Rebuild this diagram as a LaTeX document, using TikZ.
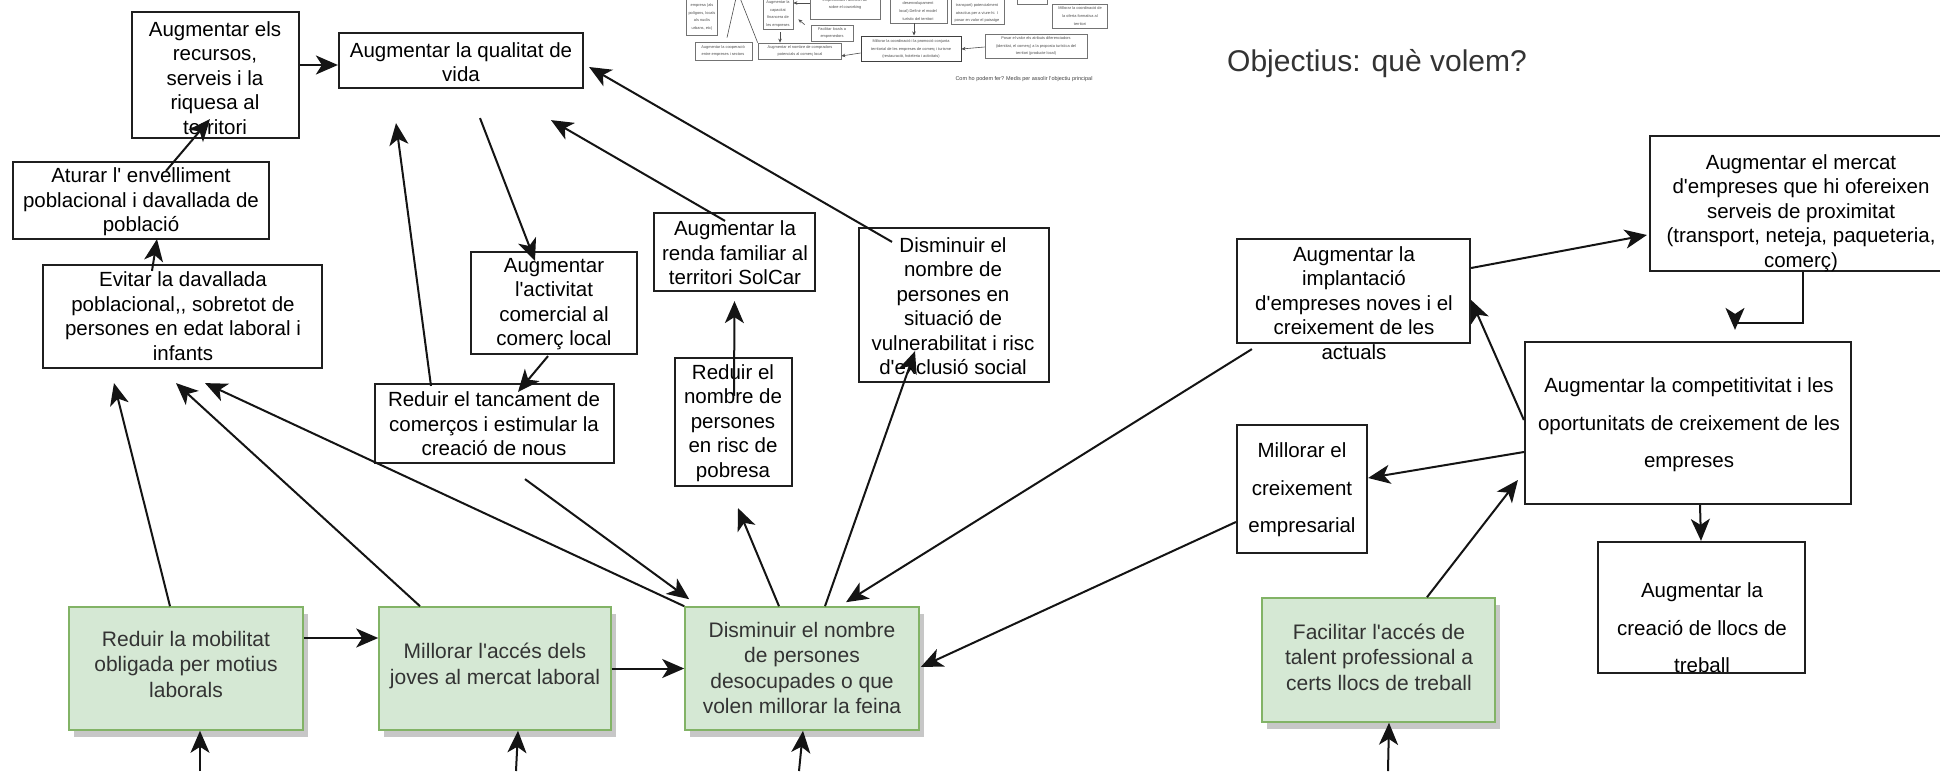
\documentclass[tikz,border=0pt]{standalone}
\usepackage{fontspec}
\setmainfont{Liberation Sans}
\usetikzlibrary{arrows.meta,fit,shadows}
\definecolor{gfill}{HTML}{D5E8D4}
\definecolor{gdraw}{HTML}{82B366}
\newcommand{\myap}{\textquotesingle}
\begin{document}
\begin{tikzpicture}[x=1pt,y=-1pt,
  wbox/.style={draw=black!88, line width=2.2pt, inner sep=0pt},
  wtxt/.style={align=center, inner sep=0pt, font=\fontsize{20.5}{24.5}\selectfont},
  wtxtw/.style={align=center, inner sep=0pt, font=\fontsize{20.5}{37.5}\selectfont},
  gbox/.style={draw=gdraw, line width=1.6pt, fill=gfill, inner sep=0pt,
    drop shadow={shadow xshift=5pt, shadow yshift=-7pt, fill=black!40, opacity=0.55}},
  gtxt/.style={align=center, inner sep=0pt, text=black!80, font=\fontsize{21}{25.5}\selectfont},
  arr/.style={line width=2pt, draw=black!92, -{Stealth[length=22pt,width=19pt,inset=6pt]}},
  tbox/.style={draw=black!55, line width=0.7pt, inner sep=0pt},
  ttxt/.style={align=center, inner sep=0pt, text=black!70, font=\fontsize{3.9}{7.8}\selectfont},
  tarr/.style={line width=0.6pt, draw=black!70, -{Stealth[length=4pt,width=3.5pt]}},
  tline/.style={line width=0.6pt, draw=black!70}
]
\path[use as bounding box] (0,0) rectangle (1940,771);
\clip (0,0) rectangle (1940,771);
\fill[white] (0,0) rectangle (1940,771);

% ---------- thumbnail (top middle) ----------
\node[tbox, fit={(686,-5) (717,35)}] (tA) {};
\node[ttxt] (tAt) at (702,17) {empresa (als\\polígons, locals\\als nuclis\\urbans, etc)};
\node[tbox, fit={(763,-5) (793,29)}] (tB) {};
\node[ttxt] (tBt) at (778,14) {Augmentar la\\capacitat\\financera de\\les empreses};
\node[tbox, fit={(810,-5) (880,19)}] (tC) {};
\node[ttxt] (tCt) at (845,4) {empresarials i directori de\\sobre el coworking};
\node[tbox, fit={(811,25) (853,41)}] (tD) {};
\node[ttxt] (tDt) at (832,33) {Facilitar locals a\\emprenedors};
\node[tbox, fit={(758,43) (841,59)}] (tE) {};
\node[ttxt] (tEt) at (800,51) {Augmentar el nombre de compradors\\potencials al comerç local};
\node[tbox, fit={(695,42) (752,60)}] (tF) {};
\node[ttxt] (tFt) at (723,51) {Augmentar la cooperació\\entre empreses i sectors};
\node[tbox, fit={(890,-5) (947,23)}] (tG) {};
\node[ttxt] (tGt) at (918,11) {desenvolupament\\local) Definir el model\\turístic del territori};
\node[tbox, fit={(951,-5) (1004,24)}] (tH) {};
\node[ttxt] (tHt) at (977,13) {transport) potencialment\\atractius per a viure-hi. I\\posar en valor el paisatge};
\node[tbox, line width=1pt, draw=black!75, fit={(861,36) (961,61)}] (tI) {};
\node[ttxt] (tIt) at (911,49) {Millorar la coordinació i la promoció conjunta\\territorial de les empreses de comerç i turisme\\(restauració, hoteleria i activitats)};
\node[tbox, fit={(985,34) (1087,58)}] (tJ) {};
\node[ttxt] (tJt) at (1036,46) {Posar el valor els atributs diferenciadors\\(identitat, el comerç) a la proposta turística del\\territori (producte local)};
\node[tbox, fit={(1017,-5) (1047,4)}] (tK) {};
\node[tbox, fit={(1052,4) (1107,28)}] (tL) {};
\node[ttxt] (tLt) at (1080,16) {Millorar la coordinació de\\la oferta formativa al\\territori};
\node[inner sep=0pt, text=black!75, font=\fontsize{5.5}{6.5}\selectfont] (tcap) at (1024,79) {Com ho podem fer? Medis per assolir l\myap objectiu principal};
\coordinate (tq1) at (736,-2);
\coordinate (tq2) at (740,-2);
\draw[tline] (tq1) -- ([xshift=3.5pt,yshift=4pt]tF.north);
\draw[tline] (tq2) -- (tE.north west);
\draw[tarr] ([yshift=4pt]tC.west) -- ([yshift=9pt]tB.east);
\draw[tarr] ([xshift=-6pt]tD.north west) -- ([xshift=5pt,yshift=10pt]tB.south east);
\draw[tarr] ([xshift=2pt,yshift=-3pt]tB.south) -- ([xshift=-19.5pt]tE.north);
\draw[tarr] ([xshift=-4.5pt]tG.south) -- ([xshift=3pt]tI.north);
\draw[tarr] ([yshift=-4.5pt]tI.west) -- ([yshift=-5pt]tE.east);
\draw[tarr] ([yshift=-1pt]tJ.west) -- ([yshift=-0.5pt]tI.east);
\draw[tline] (tK.south -| tL.north) -- (tL.north);

% ---------- title ----------
\node[inner sep=0pt, text=black!80, font=\fontsize{30}{36}\selectfont] (tit) at (1377,64) {Objectius: què volem?};

% ---------- white boxes ----------
\node[wbox, fit={(132,12) (299,138)}] (rec) {};
\node[wtxt] (recT) at (215,78) {Augmentar els\\recursos,\\serveis i la\\riquesa al\\territori};
\node[wbox, fit={(339,33) (583,88)}] (qual) {};
\node[wtxt] (qualT) at (461,62) {Augmentar la qualitat de\\vida};
\node[wbox, fit={(13,162) (269,239)}] (atu) {};
\node[wtxt] (atuT) at (141,202) {Aturar l\myap{} envelliment\\poblacional i davallada de\\població};
\node[wbox, fit={(43,265) (322,368)}] (evi) {};
\node[wtxt] (eviT) at (183,316) {Evitar la davallada\\poblacional{,}{,} sobretot de\\persones en edat laboral i\\infants};
\node[wbox, fit={(471,252) (637,354)}] (act) {};
\node[wtxt] (actT) at (554,304) {Augmentar\\l\myap activitat\\comercial al\\comerç local};
\node[wbox, fit={(375,384) (614,463)}] (tan) {};
\node[wtxt] (tanT) at (494,424) {Reduir el tancament de\\comerços i estimular la\\creació de nous};
\node[wbox, fit={(654,213) (815,291)}] (ren) {};
\node[wtxt] (renT) at (735,253) {Augmentar la\\renda familiar al\\territori SolCar};
\node[wbox, fit={(675,358) (792,486)}] (pob) {};
\node[wtxt] (pobT) at (733,423) {Reduir el\\nombre de\\persones\\en risc de\\pobresa};
\node[wbox, fit={(859,228) (1049,382)}] (vul) {};
\node[wtxt] (vulT) at (953,306) {Disminuir el\\nombre de\\persones en\\situació de\\vulnerabilitat i risc\\d\myap exclusió social};
\node[wbox, fit={(1237,239) (1470,343)}] (imp) {};
\node[wtxt] (impT) at (1354,303) {Augmentar la\\implantació\\d\myap empreses noves i el\\creixement de les\\actuals};
\node[wbox, fit={(1650,136) (1960,271)}] (mer) {};
\node[wtxt] (merT) at (1801,213) {Augmentar el mercat\\d\myap empreses que hi ofereixen\\serveis de proximitat\\(transport, neteja, paqueteria,\\comerç)};
\node[wbox, fit={(1525,342) (1851,504)}] (com) {};
\node[wtxtw] (comT) at (1689,425) {Augmentar la competitivitat i les\\oportunitats de creixement de les\\empreses};
\node[wbox, fit={(1237,425) (1367,553)}] (cre) {};
\node[wtxtw] (creT) at (1302,490) {Millorar el\\creixement\\empresarial};
\node[wbox, fit={(1598,542) (1805,673)}] (llo) {};
\node[wtxtw] (lloT) at (1702,628) {Augmentar la\\creació de llocs de\\treball};

% ---------- green boxes ----------
\node[gbox, fit={(69,607) (303,730)}] (g1) {};
\node[gtxt] (g1T) at (186,664) {Reduir la mobilitat\\obligada per motius\\laborals};
\node[gbox, fit={(379,607) (611,730)}] (g2) {};
\node[gtxt] (g2T) at (495,666) {Millorar l\myap accés dels\\joves al mercat laboral};
\node[gbox, fit={(685,607) (919,730)}] (g3) {};
\node[gtxt] (g3T) at (802,668) {Disminuir el nombre\\de persones\\desocupades o que\\volen millorar la feina};
\node[gbox, fit={(1262,598) (1495,722)}] (g4) {};
\node[gtxt] (g4T) at (1379,657) {Facilitar l\myap accés de\\talent professional a\\certs llocs de treball};

% ---------- connectors ----------
\draw[arr] ([yshift=10pt]rec.east) -- ([yshift=-4.5pt]qual.west);
\draw[arr] ([xshift=25pt,yshift=-10pt]atu.north) -- ([xshift=-5.5pt,yshift=20pt]rec.south);
\draw[arr] ([xshift=-30.5pt,yshift=-7pt]evi.north) -- ([xshift=16pt,yshift=1pt]atu.south);
\draw[arr] ([xshift=19pt,yshift=-29pt]qual.south) -- ([xshift=-19pt,yshift=-10pt]act.north);
\draw[arr] ([xshift=-6pt,yshift=-1pt]act.south) -- ([xshift=23.5pt,yshift=-9pt]tan.north);
\draw[arr] ([xshift=-63.5pt,yshift=-3pt]tan.north) -- ([xshift=-65pt,yshift=-34pt]qual.south);
\draw[arr] ([xshift=-9.5pt,yshift=-9pt]ren.north) -- ([xshift=90pt,yshift=-31pt]qual.south);
\draw[arr] ([xshift=-62pt,yshift=-15pt]vul.north) -- ([xshift=5pt,yshift=-6.5pt]qual.east);
\draw[arr] ([xshift=0.5pt,yshift=-39pt]pob.north) -- ([yshift=-9pt]ren.south);
\draw[arr] ([xshift=23pt]g3.north) -- ([xshift=-39pt,yshift=32pt]vul.south);
\draw[arr] ([xshift=-23pt]g3.north) -- ([xshift=4.5pt,yshift=-21pt]pob.south);
\draw[arr] ([xshift=30.5pt,yshift=-15pt]tan.south) -- ([xshift=5pt,yshift=7pt]g3.north west);
\draw[arr] (g3.north west) -- ([xshift=22.5pt,yshift=-14pt]evi.south);
\draw[arr] ([xshift=-75pt]g2.north) -- ([xshift=-6.5pt,yshift=-14pt]evi.south);
\draw[arr] ([xshift=-16pt]g1.north) -- ([xshift=-68.5pt,yshift=-14pt]evi.south);
\draw[arr] ([yshift=30.5pt]g1.east) -- ([yshift=30.5pt]g2.west);
\draw[arr] (g2.east) -- (g3.west);
\coordinate (b1) at (200,771);
\coordinate (b2) at (516,771);
\coordinate (b3) at (799,771);
\coordinate (b4) at (1388,771);
\draw[arr] (b1) -- ([xshift=14pt]g1.south);
\draw[arr] (b2) -- ([xshift=23pt]g2.south);
\draw[arr] (b3) -- ([xshift=1pt]g3.south);
\draw[arr] (b4) -- ([xshift=10.5pt]g4.south);
\draw[arr] ([xshift=16pt,yshift=-5pt]imp.south west) -- ([xshift=44pt,yshift=4pt]g3.north);
\draw[arr] ([yshift=-33pt]cre.west) -- ([xshift=1pt,yshift=1.5pt]g3.east);
\draw[arr] ([yshift=-29pt]com.west) -- ([yshift=11pt]cre.east);
\draw[arr] ([xshift=48.5pt]g4.north) -- ([xshift=-6pt,yshift=-57pt]com.west);
\draw[arr] ([yshift=3pt]com.west) -- ([yshift=-9pt]imp.east);
\draw[arr] ([yshift=23pt]imp.east) -- ([xshift=-2pt,yshift=-31.5pt]mer.west);
\draw[arr] ([xshift=-2pt]mer.south) -- ++(0,51) -- ++(-68,0) -- ([xshift=47pt,yshift=11pt]com.north);
\draw[arr] ([xshift=12pt]com.south) -- ([xshift=-0.5pt]llo.north);
\end{tikzpicture}
\end{document}
